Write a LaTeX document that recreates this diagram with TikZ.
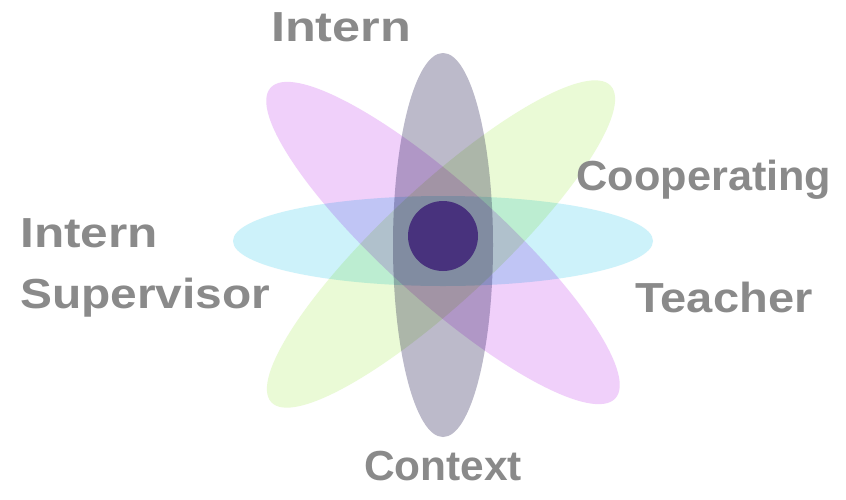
\documentclass[tikz,border=0pt]{standalone}
\usepackage{fontspec}
\setmainfont{Liberation Sans}
\definecolor{lbl}{RGB}{138,138,138}
\definecolor{pinkE}{RGB}{240,208,250}
\definecolor{greenE}{RGB}{234,250,214}
\definecolor{cyanE}{RGB}{205,242,250}
\definecolor{grayE}{RGB}{188,186,202}
\definecolor{core}{RGB}{72,50,125}
\begin{document}
\begin{tikzpicture}[x=1pt,y=1pt,
  lab/.style={text=lbl,inner sep=0pt,font=\bfseries\fontsize{42}{46}\selectfont}]
\useasboundingbox (0,0) rectangle (846,-499);
\fill[white] (0,0) rectangle (846,-499);
\begin{scope}[blend group=multiply]
  \fill[cyanE] (443,-241) ellipse [x radius=210, y radius=45];
  \fill[greenE] (441,-244) ellipse [x radius=232, y radius=57, rotate=43];
  \fill[pinkE] (443,-243) ellipse [x radius=232, y radius=58, rotate=-42];
  \fill[grayE] (443,-245) ellipse [x radius=50, y radius=192];
\end{scope}
\node[circle,fill=core,minimum size=70pt,inner sep=0pt] (core) at (443,-236) {};
\node[lab,xscale=1.2] (intern) at (341,-27) {Intern};
\node[lab,xscale=1.03] (coop) at (704,-180) {Cooperating};
\node[lab,xscale=1.12] (teach) at (724,-297) {Teacher};
\node[lab,xscale=1.18,anchor=west] (intl) at (20,-233) {Intern};
\node[lab,xscale=1.14,anchor=west] (sup) at (20,-298) {Supervisor};
\node[lab,xscale=1.01] (ctx) at (443,-466) {Context};
\end{tikzpicture}
\end{document}
